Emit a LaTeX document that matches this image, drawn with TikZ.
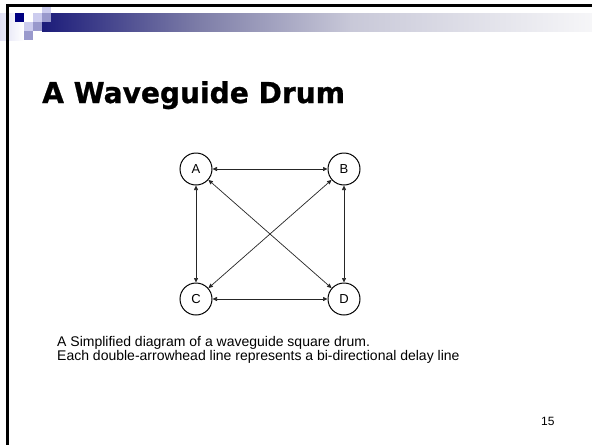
\documentclass[tikz,border=0pt]{standalone}
\usepackage{fontspec}
\setmainfont{Liberation Sans}
\newfontfamily\titlefont[BoldFeatures={FakeStretch=0.975,FakeBold=0.8}]{DejaVu Sans}
\usetikzlibrary{arrows.meta}

\definecolor{navy}{HTML}{000080}
\definecolor{lavlight}{HTML}{CCCCEE}
\definecolor{lavmid}{HTML}{9999CC}
\definecolor{bandA}{HTML}{1C1C7A}
\definecolor{bandB}{HTML}{7E7EA8}
\definecolor{bandC}{HTML}{C8C8D8}
\definecolor{bandD}{HTML}{F6F6F8}

\tikzset{
  station/.style={circle, draw=black, line width=1pt, minimum size=32pt, inner sep=0pt,
    font=\fontsize{13}{15}\selectfont},
  delayline/.style={draw=black!85, line width=0.7pt,
    {Triangle[length=4.5pt,width=4pt]}-{Triangle[length=4.5pt,width=4pt]}},
  tile/.style={draw=none},
  caption/.style={anchor=base west, inner sep=0pt, font=\fontsize{14}{16}\selectfont}
}

\begin{document}
\begin{tikzpicture}[x=1pt,y=-1pt]
  \useasboundingbox (0,0) rectangle (592,445);
  \fill[white] (0,0) rectangle (592,445);

  % header: faint tab, gradient band and tiles
  \shade[left color=lavlight!60, right color=white] (0,13) rectangle (24,40);
  \shade[left color=bandA, right color=bandB] (42,13) rectangle (200.5,31);
  \shade[left color=bandB, right color=bandC] (200,13) rectangle (350.5,31);
  \shade[left color=bandC, right color=bandD] (350,13) rectangle (592,31);
  \fill[tile, navy]     (15,13) rectangle (24,22);
  \fill[tile, lavlight] (42,7)  rectangle (51,13);
  \fill[tile, lavlight] (33,13) rectangle (42,22);
  \fill[tile, lavmid]   (42,13) rectangle (51,22);
  \fill[tile, lavlight] (24,22) rectangle (33,31);
  \fill[tile, lavmid]   (33,22) rectangle (42,31);
  \fill[tile, lavmid]   (24,31) rectangle (33,40);

  % frame
  \draw[black, line width=2.4pt] (7.3,5.6) -- (592,5.6);
  \draw[black, line width=2.4pt] (7.3,4.4) -- (7.3,445);

  % title
  \node[anchor=base west, inner sep=0pt] (title) at (42,103)
    {\titlefont\bfseries\fontsize{28.8}{32}\selectfont A Waveguide Drum};

  % the four junctions
  \node[station] (A) at (196,169) {A};
  \node[station] (B) at (344,169) {B};
  \node[station] (C) at (196,299) {C};
  \node[station] (D) at (344,299) {D};

  % bi-directional delay lines
  \draw[delayline] (A) -- (B);
  \draw[delayline] (C) -- (D);
  \draw[delayline] (A) -- (C);
  \draw[delayline] (B) -- (D);
  \draw[delayline] (A) -- (D);
  \draw[delayline] (B) -- (C);

  % caption
  \node[caption] (cap1) at (57,346.5) {A Simplified diagram of a waveguide square drum.};
  \node[caption] (cap2) at (57,360.5) {Each double-arrowhead line represents a bi-directional delay line};

  % page number
  \node[anchor=base west, inner sep=0pt, font=\fontsize{12}{14}\selectfont] (page) at (541,425) {15};
\end{tikzpicture}
\end{document}
